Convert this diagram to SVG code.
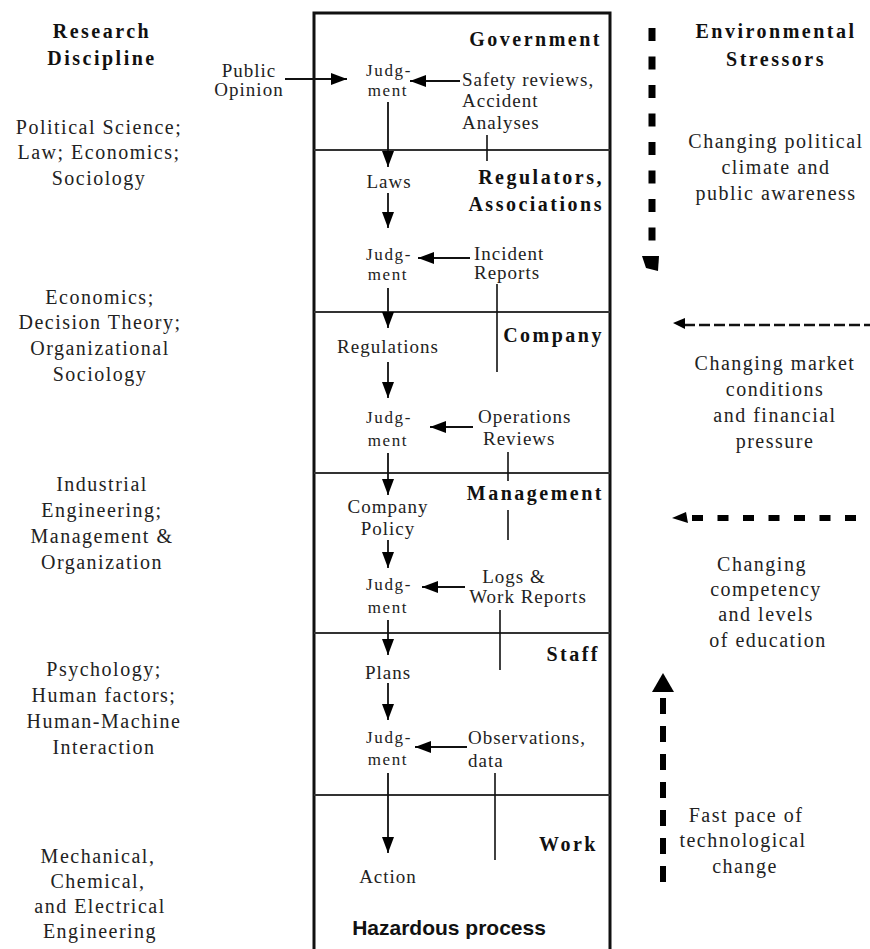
<svg xmlns="http://www.w3.org/2000/svg" width="870" height="949" viewBox="0 0 870 949">
<style>
.t{font-family:"Liberation Serif","Times New Roman",serif;font-size:19px;letter-spacing:1px;fill:#222}
.j{font-size:17px;letter-spacing:1.6px}
.l{font-size:20px;letter-spacing:1.5px;text-anchor:middle}
.b{font-weight:bold;font-size:20px;letter-spacing:2.5px;fill:#111}
.m{text-anchor:middle}
.e{text-anchor:end}
.hz{font-family:"Liberation Sans",Arial,sans-serif;font-weight:bold;font-size:21px;fill:#111;text-anchor:middle}
.ln{stroke:#111;stroke-width:1.6;fill:none}
.ar{stroke:#111;stroke-width:1.8;fill:none;marker-end:url(#ah)}
.div{stroke:#333;stroke-width:2}
</style>
<defs>
<marker id="ah" viewBox="0 0 16 12" markerWidth="16" markerHeight="12" refX="16" refY="6" orient="auto" markerUnits="userSpaceOnUse"><path d="M0,0 L16,6 L0,12 z" fill="#000"/></marker>
</defs>
<rect width="870" height="949" fill="#fff"/>

<g id="discipline-column">
<text class="t l b" x="102" y="38">Research</text>
<text class="t l b" x="102" y="65">Discipline</text>
<g id="disc-government">
<text class="t l" x="99" y="134">Political Science;</text>
<text class="t l" x="99" y="159">Law; Economics;</text>
<text class="t l" x="99" y="185">Sociology</text>
</g>
<g id="disc-company">
<text class="t l" x="100" y="304">Economics;</text>
<text class="t l" x="100" y="329">Decision Theory;</text>
<text class="t l" x="100" y="355">Organizational</text>
<text class="t l" x="100" y="381">Sociology</text>
</g>
<g id="disc-management">
<text class="t l" x="102" y="491">Industrial</text>
<text class="t l" x="102" y="517">Engineering;</text>
<text class="t l" x="102" y="543">Management &amp;</text>
<text class="t l" x="102" y="569">Organization</text>
</g>
<g id="disc-staff">
<text class="t l" x="104" y="676">Psychology;</text>
<text class="t l" x="104" y="702">Human factors;</text>
<text class="t l" x="104" y="728">Human-Machine</text>
<text class="t l" x="104" y="754">Interaction</text>
</g>
<g id="disc-work">
<text class="t l" x="98" y="863">Mechanical,</text>
<text class="t l" x="98" y="888">Chemical,</text>
<text class="t l" x="100" y="913">and Electrical</text>
<text class="t l" x="100" y="938">Engineering</text>
</g>
</g>

<g id="system-box">
<rect x="314" y="13" width="296" height="960" fill="none" stroke="#111" stroke-width="3"/>
<line class="div" x1="314" y1="150" x2="610" y2="150"/>
<line class="div" x1="314" y1="312" x2="610" y2="312"/>
<line class="div" x1="314" y1="473" x2="610" y2="473"/>
<line class="div" x1="314" y1="633" x2="610" y2="633"/>
<line class="div" x1="314" y1="795" x2="610" y2="795"/>
</g>

<g id="level-government">
<text class="t b e" x="602" y="46">Government</text>
<text class="t j m" x="389" y="76">Judg-</text>
<text class="t j m" x="388" y="96">ment</text>
<text class="t" x="462" y="86">Safety reviews,</text>
<text class="t" x="462" y="107">Accident</text>
<text class="t" x="462" y="129">Analyses</text>
</g>
<g id="public-opinion">
<text class="t m" x="249" y="77">Public</text>
<text class="t m" x="249" y="96">Opinion</text>
</g>

<g id="level-regulators">
<text class="t b e" x="604" y="184">Regulators,</text>
<text class="t b e" x="604" y="211">Associations</text>
<text class="t m" x="389" y="188">Laws</text>
<text class="t j m" x="389" y="260">Judg-</text>
<text class="t j m" x="388" y="280">ment</text>
<text class="t" x="474" y="260">Incident</text>
<text class="t" x="474" y="279">Reports</text>
</g>

<g id="level-company">
<text class="t b e" x="604" y="342">Company</text>
<text class="t m" x="388" y="353">Regulations</text>
<text class="t j m" x="389" y="423">Judg-</text>
<text class="t j m" x="388" y="446">ment</text>
<text class="t" x="478" y="423">Operations</text>
<text class="t" x="483" y="445">Reviews</text>
</g>

<g id="level-management">
<text class="t b e" x="604" y="500">Management</text>
<text class="t m" x="388" y="513">Company</text>
<text class="t m" x="388" y="535">Policy</text>
<text class="t j m" x="389" y="590">Judg-</text>
<text class="t j m" x="388" y="613">ment</text>
<text class="t m" x="514" y="583">Logs &amp;</text>
<text class="t m" x="528" y="603">Work Reports</text>
</g>

<g id="level-staff">
<text class="t b e" x="600" y="661">Staff</text>
<text class="t m" x="388" y="679">Plans</text>
<text class="t j m" x="389" y="743">Judg-</text>
<text class="t j m" x="388" y="765">ment</text>
<text class="t" x="468" y="744">Observations,</text>
<text class="t" x="468" y="767">data</text>
</g>

<g id="level-work">
<text class="t b e" x="598" y="851">Work</text>
<text class="t m" x="388" y="883">Action</text>
<text class="hz" x="449" y="935">Hazardous process</text>
</g>

<g id="connectors">
<line class="ar" x1="285" y1="79" x2="347" y2="79"/>
<line class="ar" x1="460" y1="81" x2="410" y2="81"/>
<line class="ar" x1="388" y1="102" x2="388" y2="167"/>
<line class="ln" x1="487" y1="135" x2="487" y2="161"/>
<line class="ar" x1="388" y1="193" x2="388" y2="228"/>
<line class="ar" x1="470" y1="258" x2="418" y2="258"/>
<line class="ln" x1="497" y1="284" x2="497" y2="372"/>
<line class="ar" x1="388" y1="288" x2="388" y2="328"/>
<line class="ar" x1="388" y1="362" x2="388" y2="398"/>
<line class="ar" x1="473" y1="427" x2="430" y2="427"/>
<line class="ln" x1="508" y1="452" x2="508" y2="481"/>
<line class="ln" x1="508" y1="510" x2="508" y2="540"/>
<line class="ar" x1="388" y1="453" x2="388" y2="495"/>
<line class="ar" x1="388" y1="540" x2="388" y2="568"/>
<line class="ar" x1="465" y1="587" x2="422" y2="587"/>
<line class="ln" x1="500" y1="610" x2="500" y2="670"/>
<line class="ar" x1="388" y1="620" x2="388" y2="655"/>
<line class="ar" x1="388" y1="683" x2="388" y2="720"/>
<line class="ar" x1="467" y1="747" x2="415" y2="747"/>
<line class="ln" x1="495" y1="773" x2="495" y2="860"/>
<line class="ar" x1="388" y1="773" x2="388" y2="853"/>
</g>

<g id="stressors-column">
<text class="t l b" x="776" y="38">Environmental</text>
<text class="t l b" x="776" y="66">Stressors</text>
<g id="stress-political">
<text class="t l" x="776" y="148">Changing political</text>
<text class="t l" x="776" y="174">climate and</text>
<text class="t l" x="776" y="200">public awareness</text>
</g>
<g id="stress-market">
<text class="t l" x="775" y="370">Changing market</text>
<text class="t l" x="775" y="396">conditions</text>
<text class="t l" x="775" y="422">and financial</text>
<text class="t l" x="775" y="448">pressure</text>
</g>
<g id="stress-competency">
<text class="t l" x="762" y="571">Changing</text>
<text class="t l" x="766" y="596">competency</text>
<text class="t l" x="766" y="621">and levels</text>
<text class="t l" x="768" y="647">of education</text>
</g>
<g id="stress-technology">
<text class="t l" x="746" y="822">Fast pace of</text>
<text class="t l" x="743" y="847">technological</text>
<text class="t l" x="745" y="873">change</text>
</g>
</g>

<g id="stressor-arrows">
<line x1="652" y1="28" x2="652" y2="256" stroke="#000" stroke-width="7" stroke-dasharray="13 15.5"/>
<path d="M642,256 L659,256 L658,271 L646,268 z" fill="#000"/>
<line x1="684" y1="325" x2="870" y2="325" stroke="#111" stroke-width="2.5" stroke-dasharray="11 4"/>
<path d="M673,323 L685,318 L685,329 z" fill="#000"/>
<line x1="692" y1="518" x2="870" y2="518" stroke="#000" stroke-width="6" stroke-dasharray="11 14.5"/>
<path d="M672,518 L686,512 L688,523 z" fill="#000"/>
<line x1="663" y1="698" x2="663" y2="888" stroke="#000" stroke-width="6" stroke-dasharray="16 12"/>
<path d="M663,673 L674,692 L652,692 z" fill="#000"/>
</g>
</svg>
